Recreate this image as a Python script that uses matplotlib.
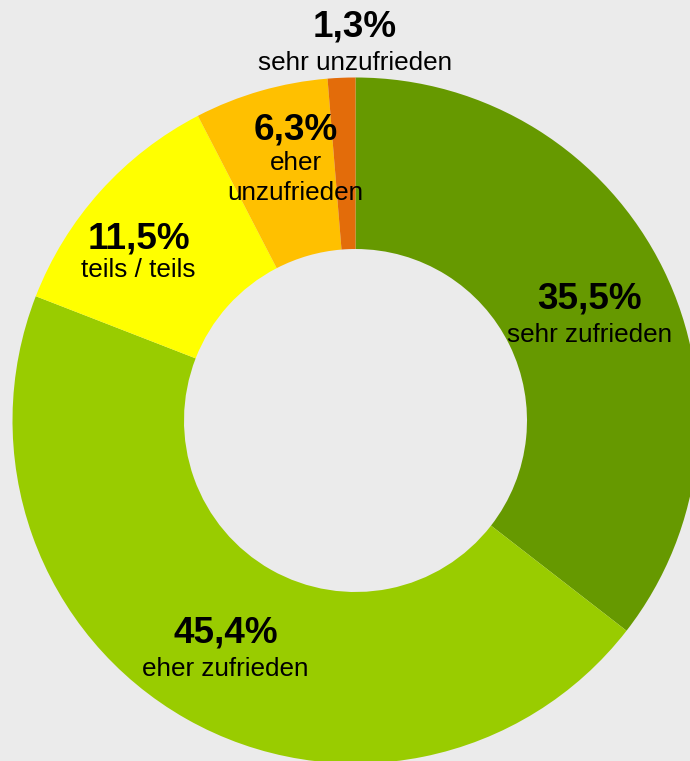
import matplotlib.pyplot as plt

plt.rcParams['font.family'] = ['Liberation Sans', 'DejaVu Sans']

# data
categories = ['sehr zufrieden', 'eher zufrieden', 'teils / teils',
              'eher\nunzufrieden', 'sehr unzufrieden']
shares = [35.5, 45.4, 11.5, 6.3, 1.3]
colors = ['#669900', '#99CC00', '#FFFF00', '#FFC000', '#E36C0A']

# label anchor (x centre, digit centre y) in pixels from top-left
label_pos = [(589.5, 296), (225.5, 630), (138.5, 235.5), (295.5, 126.7), (355, 24.5)]

W, H = 690, 761
bg = '#EBEBEB'

fig = plt.figure(figsize=(W / 100, H / 100), dpi=100, facecolor=bg)
ax = fig.add_axes([0, 0, 1, 1])
ax.set_facecolor(bg)

cx, cy, R = 355.5, H - 420.5, 343
ax.pie(shares, colors=colors, startangle=90, counterclock=False,
       center=(cx, cy), radius=R,
       wedgeprops=dict(width=R * 0.5, linewidth=0))
ax.set_aspect('auto')
ax.set_xlim(0, W)
ax.set_ylim(0, H)
ax.axis('off')

for val, cat, (px, py) in zip(shares, categories, label_pos):
    pct = f'{val:.1f}%'.replace('.', ',')
    ax.text(px, H - (py + 12.5), pct, ha='center', va='baseline',
            fontsize=26.6, fontweight='bold', color='black')
    base = py + 46 if '\n' not in cat else py + 43
    if val == 11.5:
        base = py + 41.5
    for i, line in enumerate(cat.split('\n')):
        ax.text(px, H - (base + 30 * i), line, ha='center', va='baseline',
                fontsize=18.8, color='black')

fig.savefig('out.png', dpi=100, facecolor=bg)
